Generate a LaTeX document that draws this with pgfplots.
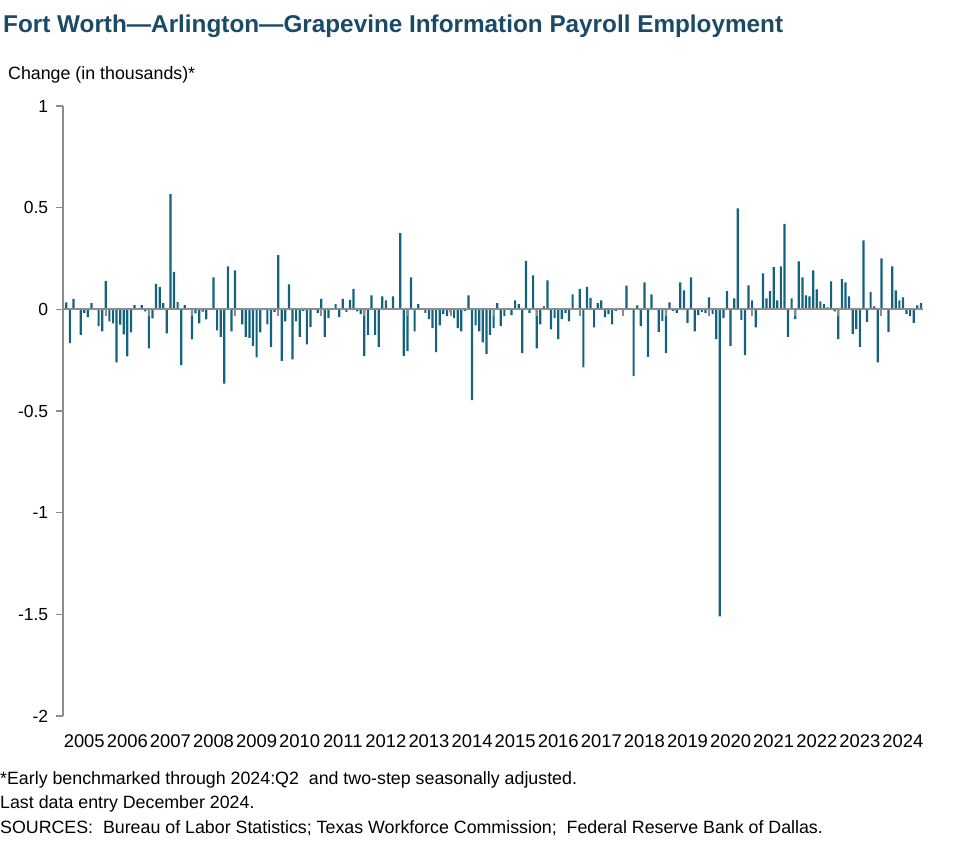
\documentclass[border=0pt]{standalone}
\usepackage{fontspec}
\setmainfont{Liberation Sans}
\usepackage{pgfplots}
\pgfplotsset{compat=1.18}
\usepackage{pgfplotstable}
\definecolor{barblue}{HTML}{15627F}
\definecolor{titleblue}{HTML}{1B4A67}
\definecolor{axgray}{HTML}{8C8C8C}

\pgfplotstableread{
x y
1 0.034
2 -0.166
3 0.051
4 0
5 -0.126
6 -0.018
7 -0.038
8 0.03
9 0
10 -0.082
11 -0.108
12 0.139
13 -0.059
14 -0.069
15 -0.261
16 -0.075
17 -0.123
18 -0.231
19 -0.113
20 0.021
21 0
22 0.021
23 -0.01
24 -0.192
25 -0.044
26 0.125
27 0.11
28 0.031
29 -0.118
30 0.567
31 0.184
32 0.036
33 -0.275
34 0.021
35 0
36 -0.148
37 -0.02
38 -0.069
39 -0.011
40 -0.049
41 0
42 0.157
43 -0.103
44 -0.136
45 -0.366
46 0.211
47 -0.108
48 0.192
49 0
50 -0.074
51 -0.136
52 -0.141
53 -0.180
54 -0.236
55 -0.113
56 0
57 -0.074
58 -0.185
59 -0.013
60 0.266
61 -0.254
62 -0.059
63 0.123
64 -0.246
65 -0.059
66 -0.136
67 -0.008
68 -0.172
69 -0.087
70 0
71 -0.018
72 0.051
73 -0.136
74 -0.043
75 0
76 0.025
77 -0.038
78 0.051
79 -0.013
80 0.046
81 0.1
82 -0.01
83 -0.023
84 -0.23
85 -0.126
86 0.069
87 -0.126
88 -0.185
89 0.064
90 0.044
91 0
92 0.064
93 0
94 0.375
95 -0.23
96 -0.205
97 0.157
98 -0.108
99 0.025
100 0
101 -0.018
102 -0.048
103 -0.093
104 -0.21
105 -0.079
106 -0.023
107 -0.033
108 -0.015
109 -0.043
110 -0.093
111 -0.108
112 -0.008
113 0.069
114 -0.446
115 -0.079
116 -0.108
117 -0.162
118 -0.22
119 -0.126
120 -0.093
121 0.03
122 -0.082
123 -0.033
124 0
125 -0.028
126 0.044
127 0.025
128 -0.215
129 0.238
130 -0.018
131 0.167
132 -0.192
133 -0.074
134 0.015
135 0.143
136 -0.098
137 -0.043
138 -0.146
139 -0.048
140 -0.018
141 -0.059
142 0.074
143 0
144 0.1
145 -0.285
146 0.11
147 0.056
148 -0.089
149 0.03
150 0.044
151 -0.038
152 -0.023
153 -0.074
154 -0.008
155 0
156 0
157 0.116
158 0
159 -0.328
160 0.02
161 -0.082
162 0.133
163 -0.234
164 0.074
165 0
166 -0.111
167 -0.057
168 -0.215
169 0.034
170 -0.008
171 -0.018
172 0.133
173 0.093
174 -0.067
175 0.157
176 -0.108
177 -0.028
178 -0.013
179 -0.018
180 0.059
181 -0.023
182 -0.146
183 -1.51
184 -0.043
185 0.089
186 -0.180
187 0.054
188 0.497
189 -0.052
190 -0.225
191 0.118
192 0.044
193 -0.089
194 0
195 0.177
196 0.054
197 0.089
198 0.207
199 0.044
200 0.211
201 0.42
202 -0.136
203 0.054
204 -0.048
205 0.236
206 0.157
207 0.069
208 0.064
209 0.192
210 0.098
211 0.039
212 0.025
213 0.01
214 0.138
215 -0.01
216 -0.146
217 0.148
218 0.133
219 0.064
220 -0.121
221 -0.097
222 -0.185
223 0.339
224 -0.062
225 0.084
226 0.015
227 -0.261
228 0.251
229 0
230 -0.111
231 0.211
232 0.093
233 0.044
234 0.059
235 -0.023
236 -0.033
237 -0.067
238 0.02
239 0.03
}\datatable

\begin{document}
\begin{tikzpicture}[x=1pt,y=1pt]
\path[use as bounding box] (-62.7,-148) rectangle (914.3,716);
\begin{axis}[
  at={(0pt,0pt)}, anchor=south west,
  scale only axis, width=860pt, height=610pt,
  xmin=0, xmax=239.5, ymin=-2, ymax=1,
  clip=false,
  axis y line*=left, axis x line*=bottom,
  x axis line style={draw=none},
  y axis line style={axgray, line width=1.6pt},
  ytick={-2,-1.5,-1,-0.5,0,0.5,1},
  yticklabels={-2,-1.5,-1,-0.5,0,0.5,1},
  xtick={6,18,30,42,54,66,78,90,102,114,126,138,150,162,174,186,198,210,222,234},
  xticklabels={2005,2006,2007,2008,2009,2010,2011,2012,2013,2014,2015,2016,2017,2018,2019,2020,2021,2022,2023,2024},
  xtick style={draw=none},
  ytick style={axgray, line width=1.4pt},
  major tick length=7pt,
  ytick align=outside,
  tick label style={text=black},
  xticklabel style={font=\fontsize{18.4}{22}\selectfont, anchor=base, yshift=-32pt},
  yticklabel style={font=\fontsize{17.5}{21}\selectfont, anchor=east, xshift=-4pt},
]
\addplot[ybar, bar width=2.2pt, fill=barblue, draw=none] table[x=x, y=y] {\datatable};
\draw[axgray, line width=2pt] (axis cs:0,0) -- (axis cs:239.5,0);
\pgfplotsinvokeforeach{1,...,19}{
  \draw[axgray, line width=2pt] (axis cs:12*#1,0) -- ++(0pt,-7pt);
}
\end{axis}
\node[anchor=base west, inner sep=0pt, font=\fontsize{24.3}{28}\selectfont\bfseries, text=titleblue] at (-59.7,683.5) {Fort Worth—Arlington—Grapevine Information Payroll Employment};
\node[anchor=base west, inner sep=0pt, font=\fontsize{17.8}{21}\selectfont] at (-54.7,636) {Change (in thousands)*};
\node[anchor=base west, inner sep=0pt, font=\fontsize{17.8}{21}\selectfont] at (-62.7,-69) {*Early benchmarked through 2024:Q2\ \ and two-step seasonally adjusted.};
\node[anchor=base west, inner sep=0pt, font=\fontsize{17.8}{21}\selectfont] at (-62.7,-93) {Last data entry December 2024.};
\node[anchor=base west, inner sep=0pt, font=\fontsize{17.8}{21}\selectfont] at (-62.7,-118) {SOURCES:\ \ Bureau of Labor Statistics;\ Texas Workforce Commission;\ \ Federal Reserve Bank of Dallas.};
\end{tikzpicture}
\end{document}
